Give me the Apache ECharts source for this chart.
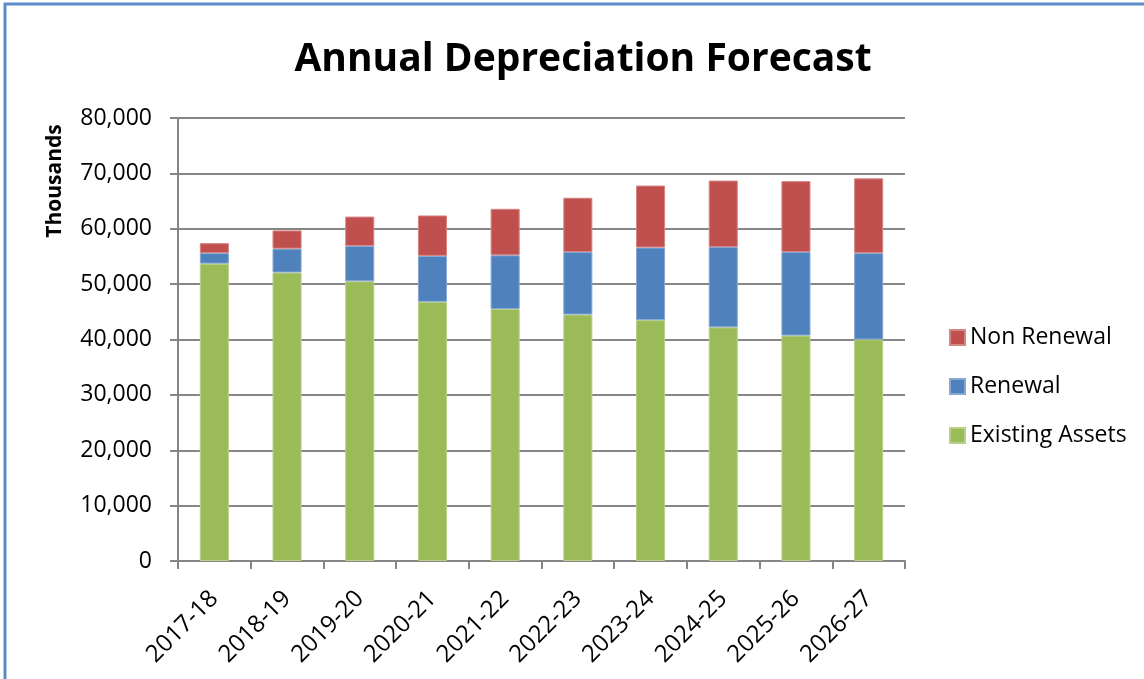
<!DOCTYPE html>
<html>
<head>
<meta charset="utf-8">
<title>Annual Depreciation Forecast</title>
<script src="https://cdn.jsdelivr.net/npm/echarts@6/dist/echarts.min.js"></script>
<style>
    html, body { margin: 0; padding: 0; background: #fff; }
    #myChart { width: 1144px; height: 679px; }
</style>
</head>
<body>
<div id="myChart"></div>
<script>
    // values, in thousands
    var years = ['2017-18', '2018-19', '2019-20', '2020-21', '2021-22',
                 '2022-23', '2023-24', '2024-25', '2025-26', '2026-27'];
    var existingAssets = [53700, 52100, 50500, 46800, 45500, 44500, 43500, 42200, 40700, 40000];
    var renewal        = [1900, 4300, 6400, 8300, 9700, 11300, 13100, 14500, 15100, 15600];
    var nonRenewal     = [1800, 3300, 5300, 7300, 8400, 9800, 11200, 12000, 12800, 13500];
    var yTicks = [0, 10000, 20000, 30000, 40000, 50000, 60000, 70000, 80000];

    var myChart;
    var textFont = '"Open Sans", "Liberation Sans", sans-serif';

    function init() {
        myChart = echarts.init(document.getElementById('myChart'));
        myChart.setOption(buildOption());
    }

    function fmt(v) {
        return v.toLocaleString('en-US');
    }

    function barSeries(name, data, color, edge) {
        return {
            name: name,
            type: 'bar',
            stack: 'total',
            barWidth: '40%',
            data: data,
            itemStyle: { color: color, borderColor: edge, borderWidth: 1 },
            emphasis: { disabled: true }
        };
    }

    function buildOption() {
        return {
            animation: false,
            title: {
                text: 'Annual Depreciation Forecast',
                left: 578,
                textAlign: 'center',
                top: 35,
                textStyle: {
                    fontFamily: textFont,
                    fontWeight: 'bold',
                    fontSize: 39,
                    color: '#000'
                }
            },
            graphic: [
                {
                    type: 'rect',
                    shape: { x: 5, y: 4, width: 1160, height: 700 },
                    style: { fill: 'none', stroke: '#5B8CC8', lineWidth: 3 },
                    silent: true
                },
                {
                    type: 'text',
                    x: 55, y: 181,
                    rotation: Math.PI / 2,
                    style: {
                        text: 'Thousands',
                        font: 'bold 21px ' + textFont,
                        fill: '#000',
                        align: 'center',
                        verticalAlign: 'middle'
                    }
                }
            ],
            legend: {
                orient: 'vertical',
                left: 944,
                top: 321,
                itemWidth: 15,
                itemHeight: 15,
                itemGap: 26,
                icon: 'rect',
                data: ['Non Renewal', 'Renewal', 'Existing Assets'],
                textStyle: { fontFamily: textFont, fontSize: 23, color: '#000' }
            },
            grid: { left: 178, right: 239, top: 118, bottom: 118 },
            xAxis: {
                type: 'category',
                data: years,
                axisLine: { lineStyle: { color: '#868686', width: 2 } },
                axisTick: { show: true, length: 8, lineStyle: { color: '#868686', width: 2 } },
                axisLabel: {
                    rotate: 45,
                    margin: 34,
                    fontFamily: textFont,
                    fontSize: 24,
                    color: '#000'
                }
            },
            yAxis: {
                type: 'value',
                min: yTicks[0],
                max: yTicks[yTicks.length - 1],
                interval: yTicks[1] - yTicks[0],
                axisLine: { show: true, lineStyle: { color: '#868686', width: 2 } },
                axisTick: { show: true, length: 8, lineStyle: { color: '#868686', width: 2 } },
                splitLine: { lineStyle: { color: '#868686', width: 2 } },
                axisLabel: {
                    margin: 26,
                    formatter: fmt,
                    fontFamily: textFont,
                    fontSize: 23,
                    color: '#000'
                }
            },
            series: [
                barSeries('Existing Assets', existingAssets, '#9BBB59', '#B9D08A'),
                barSeries('Renewal', renewal, '#4F81BD', '#86A8D2'),
                barSeries('Non Renewal', nonRenewal, '#C0504D', '#D68583')
            ]
        };
    }

    init();
</script>
</body>
</html>
